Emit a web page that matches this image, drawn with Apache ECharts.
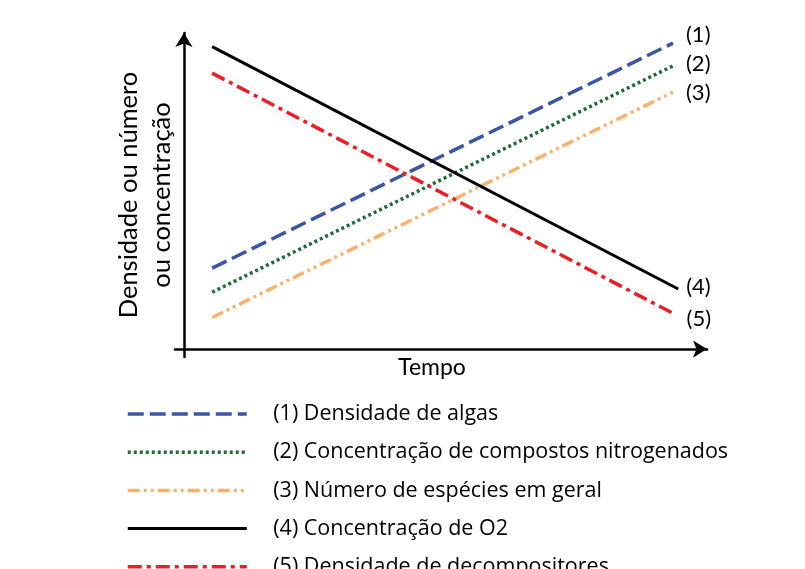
<!DOCTYPE html>
<html lang="pt">
<head>
<meta charset="UTF-8"/>
<title>Densidade ou concentração x Tempo</title>
<script src="https://cdn.jsdelivr.net/npm/echarts@6/dist/echarts.min.js"></script>
<style>
    html, body { margin: 0; padding: 0; background: #fff; }
    #main { width: 805px; height: 569px; }
</style>
</head>
<body>
<div id="main"></div>
<script>
    // tempo (eixo x, 0-100): início e fim de cada linha
    var tempoInicio = 5.4;
    var tempoFim = [93.5, 93.5, 93.5, 94.5, 94.0];

    // valores (eixo y, 0-100) no início e no fim
    var algas = [25.6, 96.8];
    var nitrogenados = [18.0, 89.6];
    var especies = [10.0, 81.3];
    var oxigenio = [95.7, 19.0];
    var decompositores = [87.3, 10.9];

    var nomes = [
        '(1) Densidade de algas',
        '(2) Concentração de compostos nitrogenados',
        '(3) Número de espécies em geral',
        '(4) Concentração de O2',
        '(5) Densidade de decompositores'
    ];
    var rotulos = ['(1)', '(2)', '(3)', '(4)', '(5)'];

    var valores = [algas, nitrogenados, especies, oxigenio, decompositores];
    var cores = ['#3b56a6', '#1d6b35', '#f9b26e', '#000000', '#ee1d25'];
    var tracos = [[16, 6], [3, 3], [12, 4, 3, 4, 3, 4], 'solid', [14, 5, 4, 5]];
    var larguras = [3.5, 3.5, 3.5, 3, 3.5];
    // deslocamento dos rótulos (1)...(5) em relação ao fim da linha
    var desloc = [[13, -8], [13, -2], [13, 1], [8, -2], [11, 4]];

    var fonte = 'Lato';
    var fonteLegenda = 'Open Sans';

    var myChart = echarts.init(document.getElementById('main'));

    var series = [];
    for (var i = 0; i < nomes.length; i++) {
        series.push({
            name: nomes[i],
            type: 'line',
            symbol: 'none',
            animation: false,
            data: [[tempoInicio, valores[i][0]], [tempoFim[i], valores[i][1]]],
            lineStyle: { color: cores[i], width: larguras[i], type: tracos[i] },
            itemStyle: { color: cores[i] },
            endLabel: {
                show: true,
                formatter: rotulos[i],
                distance: 0,
                offset: desloc[i],
                color: '#000',
                fontFamily: fonte,
                fontSize: 22
            }
        });
    }

    myChart.setOption({
        animation: false,
        grid: { left: 175, right: 98, top: 33, bottom: 212, outerBoundsMode: 'none' },
        legend: {
            orient: 'vertical',
            left: 126,
            top: 402,
            height: 200,
            padding: 0,
            itemWidth: 119,
            itemHeight: 14,
            itemGap: 14.2,
            selectedMode: false,
            itemStyle: { opacity: 0 },
            lineStyle: { width: 'inherit', type: 'inherit' },
            textStyle: {
                color: '#000',
                fontFamily: fonteLegenda,
                fontSize: 21.5,
                lineHeight: 24,
                padding: [0, 0, 0, 21.5]
            },
            data: nomes
        },
        xAxis: {
            type: 'value',
            min: -1.7,
            max: 100,
            name: 'Tempo',
            nameLocation: 'middle',
            nameGap: -1,
            nameTextStyle: { color: '#000', fontFamily: fonte, fontSize: 23, verticalAlign: 'top', padding: [0, 18, 0, 0] },
            axisLine: {
                onZero: true,
                symbol: ['none', 'arrow'],
                symbolSize: [13, 14],
                lineStyle: { color: '#000', width: 2.5 }
            },
            axisTick: { show: false },
            axisLabel: { show: false },
            splitLine: { show: false }
        },
        yAxis: {
            type: 'value',
            min: -2.5,
            max: 100,
            name: 'Densidade ou número\nou concentração',
            nameLocation: 'middle',
            nameRotate: 90,
            nameGap: -3,
            nameTextStyle: { color: '#000', fontFamily: fonte, fontSize: 25.5, lineHeight: 33 },
            axisLine: {
                onZero: true,
                symbol: ['none', 'arrow'],
                symbolSize: [13, 14],
                lineStyle: { color: '#000', width: 2.5 }
            },
            axisTick: { show: false },
            axisLabel: { show: false },
            splitLine: { show: false }
        },
        series: series
    });
</script>
</body>
</html>
